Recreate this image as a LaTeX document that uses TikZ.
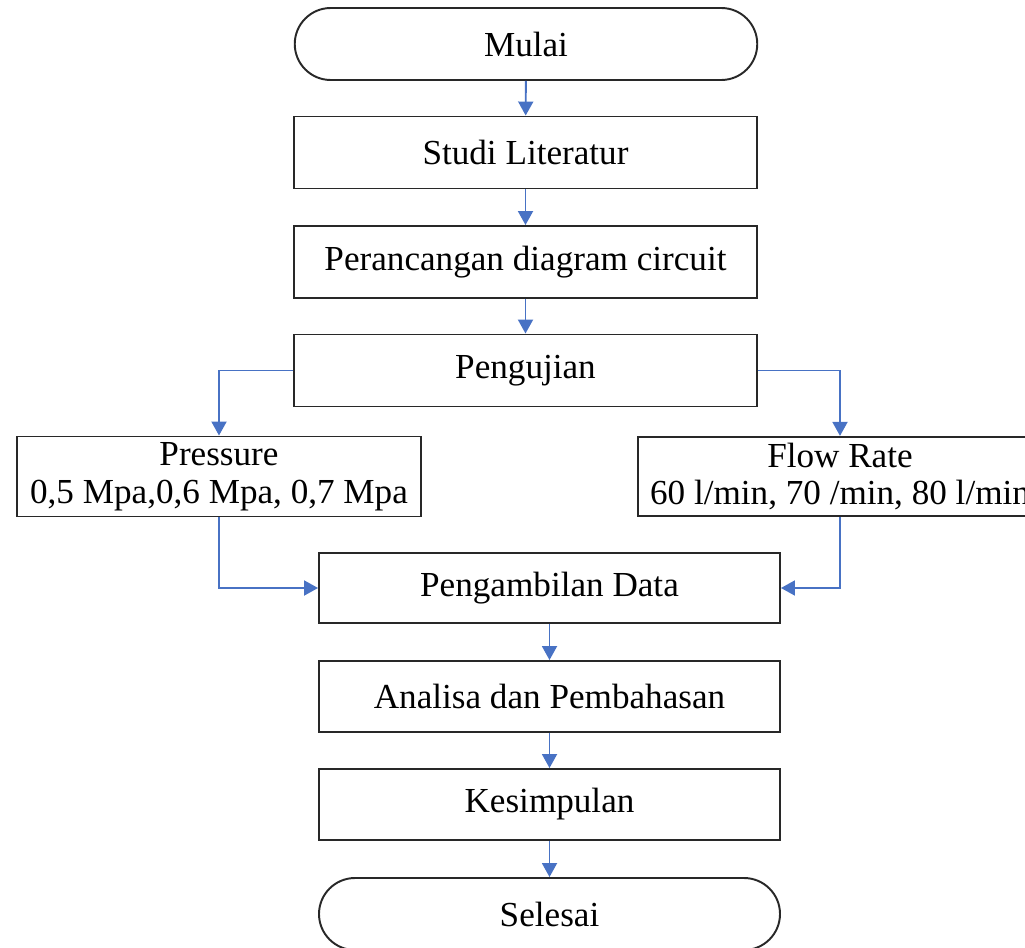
\documentclass[tikz,border=0pt]{standalone}
\usepackage{fontspec}
\setmainfont{Liberation Serif}
\definecolor{flowblue}{RGB}{72, 114, 196}
\definecolor{boxline}{RGB}{40, 40, 40}
\usetikzlibrary{arrows.meta, positioning, calc}
\tikzset{
  stepbox/.style={draw=boxline, line width=1.1pt, fill=white, minimum width=9.25cm, minimum height=1.44cm, align=center, font=\fontsize{20}{21.5}\selectfont},
  termbox/.style={stepbox, rounded corners=0.72cm},
  flowarrow/.style={draw=flowblue, line width=1.1pt, -{Triangle[length=0.28cm, width=0.3cm]}}
}

\begin{document}
\begin{tikzpicture}
  \useasboundingbox (0, 0) rectangle (20.5, -18.94);
  \clip (0, 0) rectangle (20.5, -18.94);

  % Main column
  \node[termbox] (mulai) at (10.52, -0.88) {Mulai};
  \node[stepbox] (studi) at (10.51, -3.05) {Studi Literatur};
  \node[stepbox] (rancang) at (10.51, -5.24) {Perancangan diagram circuit};
  \node[stepbox] (uji) at (10.51, -7.41) {Pengujian};

  % Parameters
  \node[stepbox, minimum width=8.08cm, minimum height=1.58cm] (pressure) at (4.38, -9.53) {Pressure\\0,5 Mpa,0,6 Mpa, 0,7 Mpa};
  \node[stepbox, minimum width=8.08cm, minimum height=1.58cm] (flow) at (16.8, -9.53) {Flow Rate\\60 l/min, 70 /min, 80 l/min};

  % Lower column
  \node[stepbox, minimum width=9.22cm, minimum height=1.4cm] (ambil) at (10.99, -11.76) {Pengambilan Data};
  \node[stepbox, minimum width=9.22cm, minimum height=1.42cm] (analisa) at (10.99, -13.93) {Analisa dan Pembahasan};
  \node[stepbox, minimum width=9.22cm, minimum height=1.42cm] (simpul) at (10.99, -16.09) {Kesimpulan};
  \node[termbox, minimum width=9.22cm] (selesai) at (10.99, -18.28) {Selesai};

  \draw[flowarrow] (mulai) -- (studi);
  \draw[flowarrow] (studi) -- (rancang);
  \draw[flowarrow] (rancang) -- (uji);
  \draw[flowarrow] (uji.west) -| (pressure.north);
  \draw[flowarrow] (uji.east) -| (flow.north);
  \draw[flowarrow] (pressure.south) |- (ambil.west);
  \draw[flowarrow] (flow.south) |- (ambil.east);
  \draw[flowarrow] (ambil) -- (analisa);
  \draw[flowarrow] (analisa) -- (simpul);
  \draw[flowarrow] (simpul) -- (selesai);
\end{tikzpicture}
\end{document}
